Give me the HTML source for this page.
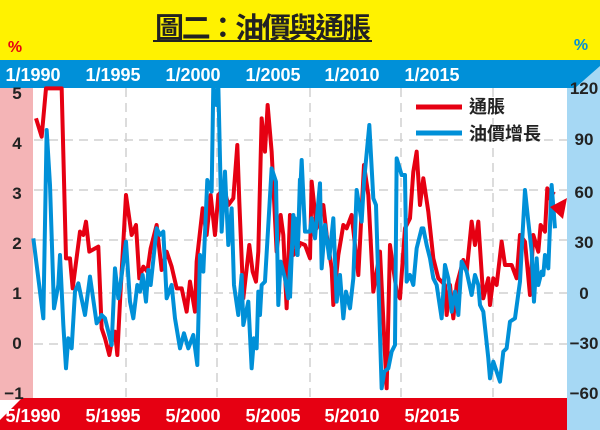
<!DOCTYPE html>
<html><head><meta charset="utf-8"><style>
html,body{margin:0;padding:0;background:#fff;}
svg{display:block;}
</style></head><body>
<svg width="600" height="430" viewBox="0 0 600 430" xmlns="http://www.w3.org/2000/svg" font-family="Liberation Sans, Noto Sans CJK TC, sans-serif">
<rect x="0" y="0" width="600" height="430" fill="#fff"/>
<rect x="0" y="0" width="600" height="60" fill="#FFF200"/>
<polygon points="567,60 600,60 600,430 567,430" fill="#A6D8F4"/>
<rect x="0" y="88" width="33" height="312" fill="#F4B4B6"/>
<polygon points="0,60 600,60 600,66 575,88 0,88" fill="#0090D8"/>
<polygon points="0,420 22,398 567,398 567,430 0,430" fill="#E60012"/>
<text x="155" y="38" font-size="29" font-weight="bold" fill="#222" font-family="Noto Sans CJK TC, sans-serif" textLength="216" lengthAdjust="spacing">圖二：油價與通脹</text>
<rect x="153" y="40" width="219" height="2" fill="#222"/>
<text x="15" y="52" text-anchor="middle" font-size="16" font-weight="bold" fill="#E60012">%</text>
<text x="581" y="50" text-anchor="middle" font-size="16" font-weight="bold" fill="#0090D8">%</text>
<g font-size="18" font-weight="bold" fill="#fff" text-anchor="middle">
<text x="33" y="81">1/1990</text><text x="113" y="81">1/1995</text><text x="193" y="81">1/2000</text><text x="273" y="81">1/2005</text><text x="352" y="81">1/2010</text><text x="432" y="81">1/2015</text>
<text x="33" y="422">5/1990</text><text x="113" y="422">5/1995</text><text x="193" y="422">5/2000</text><text x="273" y="422">5/2005</text><text x="352" y="422">5/2010</text><text x="432" y="422">5/2015</text>
</g>
<g font-size="17" font-weight="bold" fill="#222" text-anchor="middle">
<text x="17" y="99">5</text><text x="17" y="149">4</text><text x="17" y="199">3</text><text x="17" y="249">2</text><text x="17" y="299">1</text><text x="17" y="349">0</text><text x="14" y="399">−1</text>
<text x="584" y="94">120</text><text x="584" y="145">90</text><text x="584" y="198">60</text><text x="584" y="248">30</text><text x="584" y="299">0</text><text x="584" y="349">−30</text><text x="584" y="399">−60</text>
</g>
<g stroke="#d0d0d0" stroke-width="1.5" stroke-dasharray="9,6">
<line x1="34" y1="140" x2="567" y2="140"/><line x1="34" y1="190" x2="567" y2="190"/><line x1="34" y1="240" x2="567" y2="240"/><line x1="34" y1="293" x2="567" y2="293"/><line x1="34" y1="344" x2="567" y2="344"/>
<line x1="126" y1="88" x2="126" y2="398"/><line x1="217" y1="88" x2="217" y2="398"/><line x1="310" y1="88" x2="310" y2="398"/><line x1="401" y1="88" x2="401" y2="398"/><line x1="493" y1="88" x2="493" y2="398"/>
</g>
<g fill="none" stroke-linejoin="round" stroke-width="4">
<g transform="translate(30,85) scale(0.3333)">
<polyline vector-effect="non-scaling-stroke" stroke="#E60012" points="18,100 35,155 48,10 95,10 108,520 120,520 128,610 150,440 160,450 168,410 178,500 205,485 215,730 225,760 238,810 245,770 255,740 262,810 270,650 288,330 305,450 318,420 328,580 340,545 352,560 362,490 380,420 395,555 410,500 425,545 440,610 455,610 470,680 480,590 495,680 500,530 518,370 530,450 542,330 555,450 565,330 582,310 595,360 610,340 622,180 628,350 640,640 658,480 668,560 678,590 685,500 695,100 705,200 713,60 725,200 740,500 752,390 760,450 770,670 780,390 790,510 810,480"/>
<polyline vector-effect="non-scaling-stroke" stroke="#0090D8" points="10,460 25,580 40,700 50,135 60,300 72,670 85,600 90,510 100,720 108,850 115,760 125,790 135,620 145,595 165,690 180,575 200,715 215,690 225,700 245,780 255,550 265,640 270,610 288,470 300,650 310,700 322,600 330,620 338,570 348,650 355,555 362,600 380,430 390,450 400,440 410,640 425,600 435,700 450,790 462,745 475,790 490,750 502,840 510,510 520,560 532,285 545,320 550,0 560,60 565,0 575,440 585,260 595,480 605,370 612,600 625,690 635,570 640,720 655,650 665,850 672,760 680,790 685,620 690,690 695,600 705,590 725,250 738,290 745,660 752,530 765,580 775,640 780,550 795,400 803,510 810,280"/>
</g>
<g transform="translate(290,85) scale(0.3333)">
<polyline vector-effect="non-scaling-stroke" stroke="#E60012" points="0,390 20,470 45,480 60,520 65,290 80,430 100,360 110,450 125,550 130,660 145,510 160,420 170,430 185,390 205,570 222,240 235,330 250,620 270,500 290,910 300,480 320,620 330,640 345,430 360,400 370,260 380,200 390,360 400,280 415,380 430,520 445,580 465,600 470,690 480,600 490,700 500,600 520,525 530,560 545,410 555,480 565,410 580,640 595,580 600,660 610,580 620,600 635,470 645,540 665,540 680,580 690,450 705,470 720,630 730,450 745,500 752,420 765,440 772,310 780,340 792,320"/>
<polyline vector-effect="non-scaling-stroke" stroke="#0090D8" points="0,640 10,390 22,510 35,225 45,440 60,440 65,400 75,460 90,295 95,550 105,420 118,520 130,400 140,650 150,570 160,700 168,620 180,670 190,580 200,315 215,410 222,290 238,120 250,340 258,360 275,910 283,860 295,850 305,800 315,780 320,220 335,270 345,270 350,590 360,570 370,600 380,490 395,430 400,430 410,480 420,520 430,580 440,600 455,700 465,540 475,580 485,680 495,620 505,690 515,530 530,560 545,630 555,570 565,600 570,660 580,680 595,820 600,880 610,830 620,860 630,890 640,800 650,790 660,710 675,700 690,590 705,315 715,410 725,500 732,650 740,520 745,600 755,560 760,570 765,510 775,550 785,300 795,430"/>
</g>
</g>
<polygon points="550,207 567,198 563,219" fill="#E60012"/>
<line x1="416" y1="107" x2="462" y2="107" stroke="#E60012" stroke-width="5"/>
<line x1="416" y1="133" x2="462" y2="133" stroke="#0090D8" stroke-width="5"/>
<g font-size="18" font-weight="bold" fill="#222" font-family="Noto Sans CJK TC, sans-serif">
<text x="469" y="113">通脹</text><text x="469" y="140">油價增長</text>
</g>
</svg>
</body></html>
